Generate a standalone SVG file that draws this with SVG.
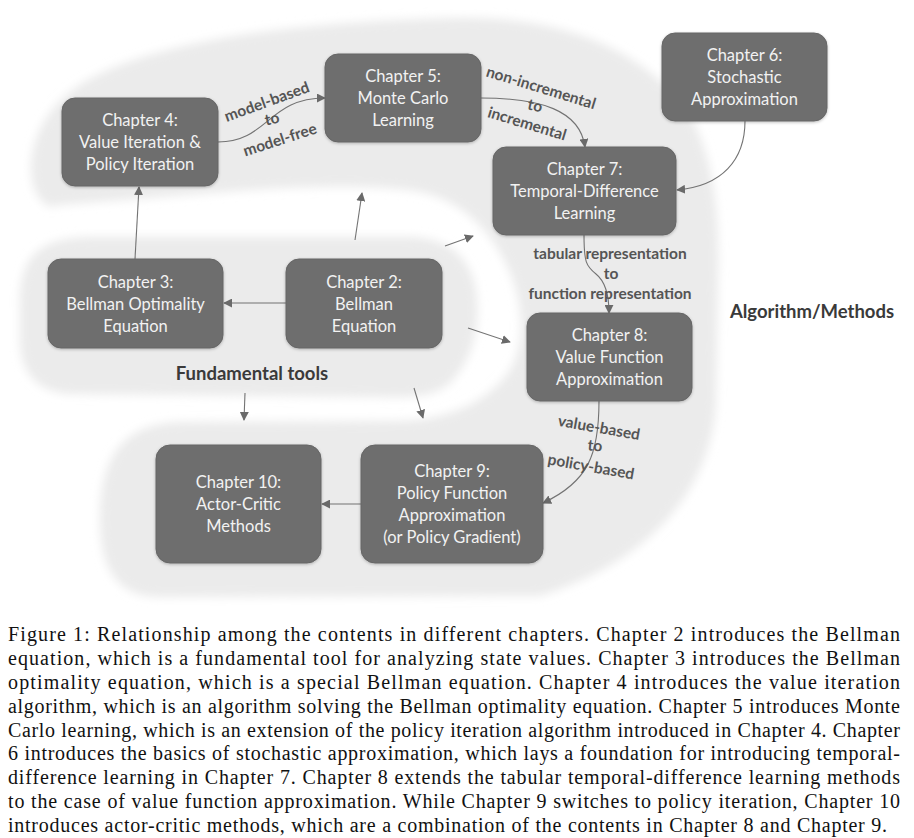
<svg xmlns="http://www.w3.org/2000/svg" width="914" height="838" viewBox="0 0 914 838">
<defs>
<filter id="soft" x="-10%" y="-10%" width="120%" height="120%"><feGaussianBlur stdDeviation="5"/></filter>
<filter id="shadow" x="-10%" y="-10%" width="120%" height="130%"><feDropShadow dx="0" dy="1" stdDeviation="1.5" flood-color="#000" flood-opacity="0.25"/></filter>
<marker id="arr" viewBox="0 0 10 10" refX="9" refY="5" markerWidth="9" markerHeight="9" markerUnits="userSpaceOnUse" orient="auto">
<path d="M0,0 L10,5 L0,10 z" fill="#6a6a6a"/>
</marker>
<style>
.bg{fill:#ebebeb;filter:url(#soft)}
.box{fill:#6e6e6e;stroke:#666;stroke-width:1;filter:url(#shadow)}
.bt{font-family:Lato,"Open Sans",sans-serif;font-size:16.5px;fill:#f2f2f2;text-anchor:middle}
.ln{fill:none;stroke:#737373;stroke-width:1.1;marker-end:url(#arr)}
.lb{font-family:Lato,"Open Sans",sans-serif;font-size:15.5px;font-weight:bold;fill:#555;text-anchor:middle}
.rg{font-family:Lato,"Open Sans",sans-serif;font-size:18.5px;font-weight:bold;fill:#3a3a3a;text-anchor:middle}
.cap{font-family:"Liberation Serif",serif;font-size:20px;fill:#111}
</style>
</defs>
<rect width="914" height="838" fill="#fff"/>
<g id="background">
<path class="bg" d="M50,207 C22,195 22,130 70,92 C120,52 250,22 460,18 C570,16 650,55 690,115 C715,160 720,220 718,280 L716,400 C714,470 670,555 540,596 L160,597 C118,597 100,570 100,520 C100,460 120,424 180,422 L400,421 C450,420 490,400 510,370 C528,340 522,295 505,262 C488,228 460,200 420,192 C380,185 320,186 250,190 L60,205 Z"/>
<path class="bg" d="M20,310 C18,260 35,238 90,237 L410,237 C450,238 470,258 476,290 C482,330 470,365 448,385 C432,397 410,398 380,397 L70,394 C35,392 20,370 20,340 Z"/>
</g>
<g id="region-labels">
<text class="rg" x="252" y="380">Fundamental tools</text>
<text class="rg" x="812" y="318">Algorithm/Methods</text>
</g>
<g id="connectors">
<path class="ln" d="M135,259 L139,187"/>
<path class="ln" d="M286,303 L224,303"/>
<path class="ln" d="M355,240 L362,193"/>
<path class="ln" d="M445,246 L473,236"/>
<path class="ln" d="M468,328 L510,342"/>
<path class="ln" d="M414,388 L423,418"/>
<path class="ln" d="M245,393 L244,420"/>
<path class="ln" d="M361,504 L322,504"/>
<path class="ln" d="M218,142 C268,142 268,98 325,98"/>
<path class="ln" d="M481,98 C540,98 580,110 585,147"/>
<path class="ln" d="M745,121 C745,160 722,186 677,190"/>
<path class="ln" d="M584,235 C584,262 586,266 596,274 C606,282 609,295 609,313"/>
<path class="ln" d="M599,401 C599,455 588,482 543,503"/>
<g transform="translate(267,102) rotate(-20)"><text class="lb" y="5">model-based</text></g>
<g transform="translate(272,119) rotate(-12)"><text class="lb" y="5">to</text></g>
<g transform="translate(280,140) rotate(-18)"><text class="lb" y="5">model-free</text></g>
<g transform="translate(541,88) rotate(17)"><text class="lb" y="5">non-incremental</text></g>
<g transform="translate(535,106) rotate(12)"><text class="lb" y="5">to</text></g>
<g transform="translate(527,124) rotate(17)"><text class="lb" y="5">incremental</text></g>
<text class="lb" x="610" y="259">tabular representation</text>
<text class="lb" x="611" y="279">to</text>
<text class="lb" x="610" y="299">function representation</text>
<g transform="translate(599,428) rotate(10)"><text class="lb" y="5">value-based</text></g>
<g transform="translate(595,446) rotate(5)"><text class="lb" y="5">to</text></g>
<g transform="translate(591,467) rotate(10)"><text class="lb" y="5">policy-based</text></g>
</g>
<g id="ch4"><rect class="box" x="62" y="98" width="156" height="88" rx="13"/>
<text class="bt" x="140" y="126">Chapter 4:</text><text class="bt" x="140" y="148">Value Iteration &amp;</text><text class="bt" x="140" y="170">Policy Iteration</text></g>
<g id="ch5"><rect class="box" x="325" y="54" width="156" height="88" rx="13"/>
<text class="bt" x="403" y="82">Chapter 5:</text><text class="bt" x="403" y="104">Monte Carlo</text><text class="bt" x="403" y="126">Learning</text></g>
<g id="ch6"><rect class="box" x="662" y="33" width="165" height="88" rx="13"/>
<text class="bt" x="744.5" y="61">Chapter 6:</text><text class="bt" x="744.5" y="83">Stochastic</text><text class="bt" x="744.5" y="105">Approximation</text></g>
<g id="ch7"><rect class="box" x="493" y="147" width="183" height="88" rx="13"/>
<text class="bt" x="584.5" y="175">Chapter 7:</text><text class="bt" x="584.5" y="197">Temporal-Difference</text><text class="bt" x="584.5" y="219">Learning</text></g>
<g id="ch3"><rect class="box" x="48" y="259" width="175" height="89" rx="13"/>
<text class="bt" x="135.5" y="288">Chapter 3:</text><text class="bt" x="135.5" y="310">Bellman Optimality</text><text class="bt" x="135.5" y="332">Equation</text></g>
<g id="ch2"><rect class="box" x="286" y="259" width="156" height="89" rx="13"/>
<text class="bt" x="364" y="288">Chapter 2:</text><text class="bt" x="364" y="310">Bellman</text><text class="bt" x="364" y="332">Equation</text></g>
<g id="ch8"><rect class="box" x="527" y="313" width="165" height="88" rx="13"/>
<text class="bt" x="609.5" y="341">Chapter 8:</text><text class="bt" x="609.5" y="363">Value Function</text><text class="bt" x="609.5" y="385">Approximation</text></g>
<g id="ch9"><rect class="box" x="361" y="445" width="182" height="118" rx="14"/>
<text class="bt" x="452" y="477">Chapter 9:</text><text class="bt" x="452" y="499">Policy Function</text><text class="bt" x="452" y="521">Approximation</text><text class="bt" x="452" y="543">(or Policy Gradient)</text></g>
<g id="ch10"><rect class="box" x="156" y="445" width="165" height="118" rx="14"/>
<text class="bt" x="238.5" y="488">Chapter 10:</text><text class="bt" x="238.5" y="510">Actor-Critic</text><text class="bt" x="238.5" y="532">Methods</text></g>
<g id="caption">
<text class="cap" x="8" y="641" textLength="892" lengthAdjust="spacing">Figure 1: Relationship among the contents in different chapters.  Chapter 2 introduces the Bellman</text>
<text class="cap" x="8" y="665" textLength="892" lengthAdjust="spacing">equation, which is a fundamental tool for analyzing state values.  Chapter 3 introduces the Bellman</text>
<text class="cap" x="8" y="689" textLength="892" lengthAdjust="spacing">optimality equation, which is a special Bellman equation.  Chapter 4 introduces the value iteration</text>
<text class="cap" x="8" y="713" textLength="892" lengthAdjust="spacing">algorithm, which is an algorithm solving the Bellman optimality equation. Chapter 5 introduces Monte</text>
<text class="cap" x="8" y="737" textLength="892" lengthAdjust="spacing">Carlo learning, which is an extension of the policy iteration algorithm introduced in Chapter 4. Chapter</text>
<text class="cap" x="8" y="760" textLength="892" lengthAdjust="spacing">6 introduces the basics of stochastic approximation, which lays a foundation for introducing temporal-</text>
<text class="cap" x="8" y="784" textLength="892" lengthAdjust="spacing">difference learning in Chapter 7.  Chapter 8 extends the tabular temporal-difference learning methods</text>
<text class="cap" x="8" y="808" textLength="892" lengthAdjust="spacing">to the case of value function approximation. While Chapter 9 switches to policy iteration, Chapter 10</text>
<text class="cap" x="8" y="832" textLength="879" lengthAdjust="spacing">introduces actor-critic methods, which are a combination of the contents in Chapter 8 and Chapter 9.</text>
</g>
</svg>
